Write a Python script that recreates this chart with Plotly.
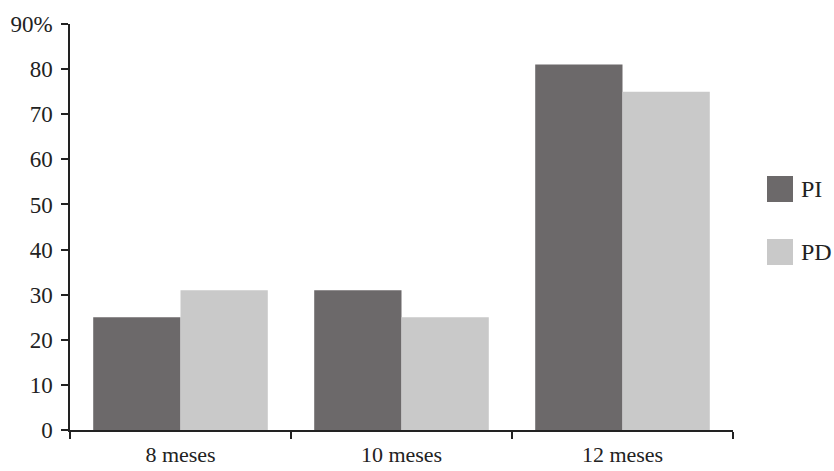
import plotly.graph_objects as go

categories = ["8 meses", "10 meses", "12 meses"]
series_names = ["PI", "PD"]
pi_values = [25, 31, 81]
pd_values = [31, 25, 75]
y_tick_vals = [0, 10, 20, 30, 40, 50, 60, 70, 80, 90]
y_tick_text = ["0", "10", "20", "30", "40", "50", "60", "70", "80", "90%"]

colors = ["#6c696a", "#c9c9c9"]
font_family = "Liberation Serif, Times New Roman, serif"

fig = go.Figure()
for sname, vals, col in zip(series_names, [pi_values, pd_values], colors):
    fig.add_trace(go.Bar(x=categories, y=vals, name=sname, marker=dict(color=col, line=dict(width=0)),
                         showlegend=False))

W, H = 834, 471
L, T = 70, 24
pw, ph = 663, 406
R = W - L - pw
B = H - T - ph

fig.update_layout(
    width=W, height=H,
    margin=dict(l=L, r=R, t=T, b=B, autoexpand=False),
    paper_bgcolor="white", plot_bgcolor="white",
    barmode="group", bargap=0.21, bargroupgap=0,
    font=dict(family=font_family, color="#222222"),
    xaxis=dict(showline=True, linecolor="#222222", linewidth=1.5, ticks="outside", ticklen=7,
               tickwidth=1.5, tickcolor="#222222", tickson="boundaries", showgrid=False,
               automargin=False, ticklabelstandoff=4,
               tickfont=dict(size=22, family=font_family, color="#222222")),
    yaxis=dict(range=[0, 90], tickvals=y_tick_vals, ticktext=y_tick_text, showline=True,
               linecolor="#222222", linewidth=1.5, ticks="outside", ticklen=7, tickwidth=1.5,
               tickcolor="#222222", showgrid=False, zeroline=False, automargin=False,
               ticklabelstandoff=4,
               tickfont=dict(size=23, family=font_family, color="#222222")),
)

# Legend drawn as paper-anchored squares and labels
legend_y = [189, 252]  # pixel centers
for i in range(len(series_names)):
    yc = legend_y[i]
    y_top = 1 - (yc - 13 - T) / ph
    y_bot = 1 - (yc + 13 - T) / ph
    x0 = (767 - L) / pw
    x1 = (793 - L) / pw
    fig.add_shape(type="rect", xref="paper", yref="paper", x0=x0, x1=x1, y0=y_bot, y1=y_top,
                  fillcolor=colors[i], line=dict(width=0))
    fig.add_annotation(xref="paper", yref="paper", x=(799 - L) / pw,
                       y=1 - (yc - T) / ph, text=series_names[i], showarrow=False,
                       xanchor="left", yanchor="middle",
                       font=dict(size=24, family=font_family, color="#222222"))

fig.write_html("out.html", config={"displayModeBar": False},
               post_script="document.body.style.margin='0';document.body.style.overflow='hidden';")
